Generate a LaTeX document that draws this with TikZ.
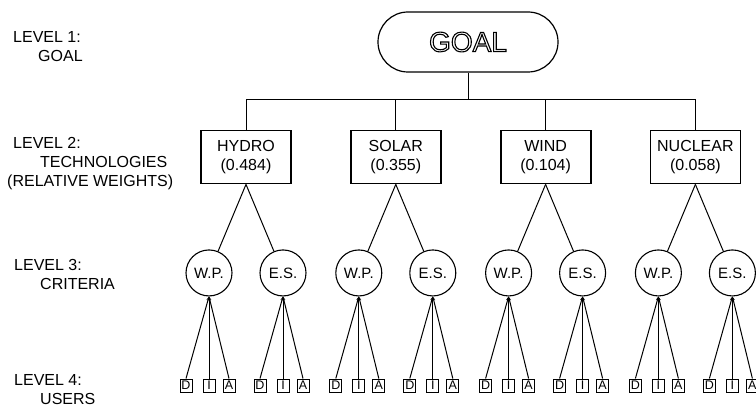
\documentclass[tikz,border=0pt]{standalone}
\usepackage{fontspec}
\setmainfont{Liberation Sans}
\usetikzlibrary{positioning,arrows.meta}

% hollow letters for the goal
\newcommand{\hollowtext}[1]{\special{pdf:literal direct q 1 Tr 1.1 w}#1\special{pdf:literal direct Q}}

\begin{document}
\begin{tikzpicture}[x=1pt, y=-1pt,
  goalbox/.style={draw, rounded corners=30pt, minimum width=180pt, minimum height=60pt, line width=1.2pt, font=\fontsize{28}{28}\selectfont},
  techbox/.style={draw, line width=1.8pt, align=center, minimum width=90pt, minimum height=53pt, font=\fontsize{16}{19}\selectfont},
  crit/.style={draw, circle, minimum size=46pt, inner sep=0pt, line width=1.1pt, font=\fontsize{15}{15}\selectfont},
  user/.style={draw, minimum width=12pt, minimum height=13pt, inner sep=0pt, line width=1pt, font=\fontsize{12.5}{12.5}\selectfont},
  lvl/.style={align=left, anchor=west, inner sep=0pt, font=\fontsize{16}{19}\selectfont},
  tie/.style={line width=1pt},
  arr/.style={-{Stealth[length=4pt,width=3pt]}, line width=1pt}
]
\useasboundingbox (0,0) rectangle (756,412);

% level labels
\node[lvl] (lv1) at (13,47) {LEVEL 1:\\\hspace*{25pt}GOAL};
\node[lvl] (lv2) at (7,164) {\hspace*{6pt}LEVEL 2:\\\hspace*{33pt}TECHNOLOGIES\\(RELATIVE WEIGHTS)};
\node[lvl] (lv3) at (14,274) {LEVEL 3:\\\hspace*{26pt}CRITERIA};
\node[lvl] (lv4) at (14,390) {LEVEL 4:\\\hspace*{26pt}USERS};

% goal and technologies
\node[goalbox] (goal) at (468,42) {\hollowtext{GOAL}};
\node[techbox] (hydro) at (246,157) {HYDRO\\(0.484)};
\node[techbox, right=58pt of hydro] (solar) {SOLAR\\(0.355)};
\node[techbox, right=58pt of solar] (wind) {WIND\\(0.104)};
\node[techbox, right=58pt of wind] (nuclear) {NUCLEAR\\(0.058)};

\coordinate (bus) at (0,100);
\draw[tie] (goal.south) -- (goal.south |- bus);
\draw[tie] (hydro.north) |- (nuclear.north |- bus) -- (nuclear.north);
\draw[tie] (solar.north) -- (solar.north |- bus);
\draw[tie] (wind.north) -- (wind.north |- bus);

% criteria and users
\foreach \t in {hydro,solar,wind,nuclear} {
  \node[crit, below=65pt of \t, xshift=-37pt] (\t-wp) {W.P.};
  \node[crit, below=65pt of \t, xshift=37pt] (\t-es) {E.S.};
  \draw[tie] (\t.south) -- (\t-wp);
  \draw[tie] (\t.south) -- (\t-es);
  \foreach \c in {wp,es} {
    \node[user, below=82pt of \t-\c, xshift=-23pt] (\t-\c-d) {D};
    \node[user, below=82pt of \t-\c] (\t-\c-i) {I};
    \node[user, below=82pt of \t-\c, xshift=20pt] (\t-\c-a) {A};
    \foreach \u in {d,i,a}
      \draw[arr] (\t-\c-\u.north) -- (\t-\c.south);
  }
}
\end{tikzpicture}
\end{document}
